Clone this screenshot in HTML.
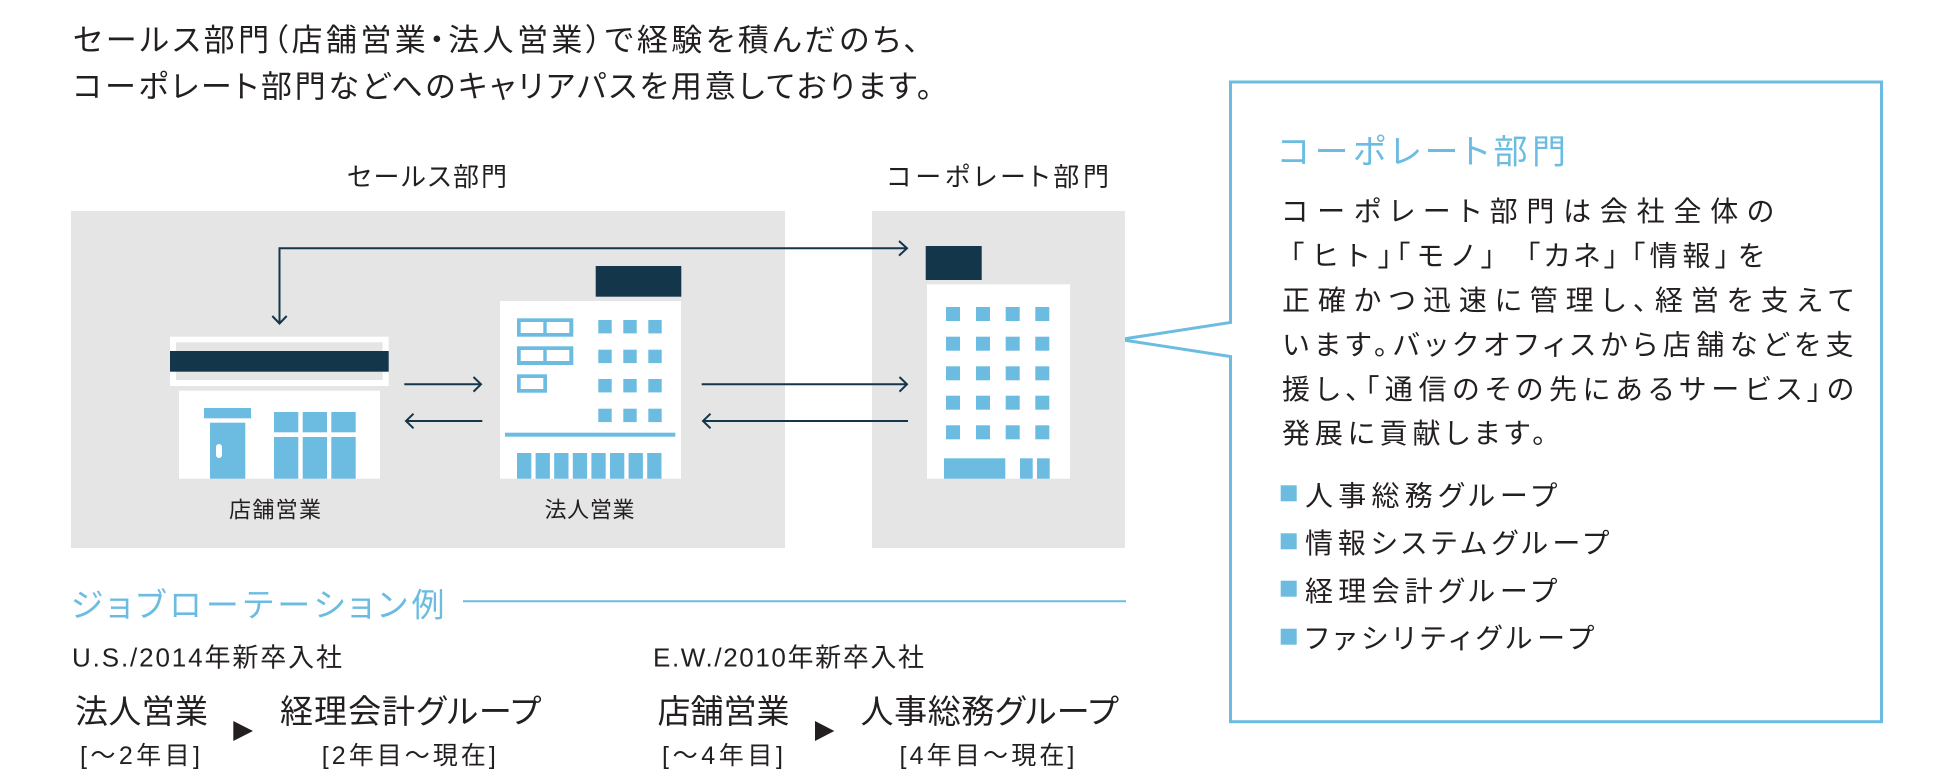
<!DOCTYPE html>
<html lang="ja">
<head>
<meta charset="utf-8">
<style>
  html,body{margin:0;padding:0;background:#fff;}
  body{width:1948px;height:784px;overflow:hidden;}
  svg{display:block;}
  text{font-family:"Liberation Sans","Noto Sans CJK JP",sans-serif;font-feature-settings:"palt";fill:#231f20;}
  .b{fill:#6cbce2;}
</style>
</head>
<body>
<svg width="1948" height="784" viewBox="0 0 1948 784" xmlns="http://www.w3.org/2000/svg">
  <!-- Heading -->
  <text x="73" y="51" font-size="31" textLength="846" lengthAdjust="spacing">セールス部門（店舗営業・法人営業）で経験を積んだのち、</text>
  <text x="73" y="97.5" font-size="31" textLength="859" lengthAdjust="spacing">コーポレート部門などへのキャリアパスを用意しております。</text>

  <!-- Section labels -->
  <text x="347" y="186" font-size="26" textLength="160" lengthAdjust="spacing">セールス部門</text>
  <text x="887" y="186" font-size="26" textLength="222" lengthAdjust="spacing">コーポレート部門</text>

  <!-- Callout box -->
  <rect x="1230.5" y="82" width="651" height="639.7" fill="#fff" stroke="#6cbce2" stroke-width="3"/>
  <rect x="1228.5" y="322.5" width="4" height="34" fill="#fff"/>
  <polyline points="1230.5,318 1230.5,322.5 1120,339.5 1230.5,356.5 1230.5,361" fill="none" stroke="#6cbce2" stroke-width="3" stroke-linejoin="miter"/>

  <!-- Gray boxes -->
  <rect x="71" y="211" width="714" height="337" fill="#e5e5e5"/>
  <rect x="872" y="211" width="253" height="337" fill="#e5e5e5"/>

  <!-- Store icon -->
  <rect x="170" y="336.7" width="218.7" height="49.3" fill="#fff"/>
  <rect x="176" y="342.3" width="206.7" height="37.7" fill="#e5e5e5"/>
  <rect x="170" y="351" width="218.7" height="20.7" fill="#13364b"/>
  <rect x="179" y="390.7" width="201" height="88" fill="#fff"/>
  <rect class="b" x="204" y="408" width="47" height="10.3"/>
  <rect class="b" x="210" y="422.7" width="35.3" height="56"/>
  <rect x="216" y="444" width="6" height="14" rx="3" fill="#fff"/>
  <rect class="b" x="274" y="412" width="24.3" height="20.3"/>
  <rect class="b" x="302.7" y="412" width="24.3" height="20.3"/>
  <rect class="b" x="331.3" y="412" width="24.4" height="20.3"/>
  <rect class="b" x="274" y="437" width="24.3" height="41.7"/>
  <rect class="b" x="302.7" y="437" width="24.3" height="41.7"/>
  <rect class="b" x="331.3" y="437" width="24.4" height="41.7"/>

  <!-- Office building (法人営業) -->
  <rect x="595.7" y="266" width="85.6" height="30.7" fill="#13364b"/>
  <rect x="500" y="301" width="181" height="177.7" fill="#fff"/>
  <rect class="b" x="517" y="318.3" width="56.3" height="18.4"/>
  <rect x="520.7" y="322" width="22.6" height="11" fill="#fff"/>
  <rect x="546.7" y="322" width="22.6" height="11" fill="#fff"/>
  <rect class="b" x="517" y="346.3" width="56.3" height="18.7"/>
  <rect x="520.7" y="350" width="22.6" height="11" fill="#fff"/>
  <rect x="546.7" y="350" width="22.6" height="11" fill="#fff"/>
  <rect class="b" x="517" y="374.3" width="30" height="18.4"/>
  <rect x="520.7" y="378" width="22.6" height="11" fill="#fff"/>
  <g class="b">
    <rect x="598.3" y="320" width="13.4" height="13.4"/>
    <rect x="623.3" y="320" width="13.4" height="13.4"/>
    <rect x="648.3" y="320" width="13.4" height="13.4"/>
    <rect x="598.3" y="349.7" width="13.4" height="13.4"/>
    <rect x="623.3" y="349.7" width="13.4" height="13.4"/>
    <rect x="648.3" y="349.7" width="13.4" height="13.4"/>
    <rect x="598.3" y="379" width="13.4" height="13.4"/>
    <rect x="623.3" y="379" width="13.4" height="13.4"/>
    <rect x="648.3" y="379" width="13.4" height="13.4"/>
    <rect x="598.3" y="408.7" width="13.4" height="13.4"/>
    <rect x="623.3" y="408.7" width="13.4" height="13.4"/>
    <rect x="648.3" y="408.7" width="13.4" height="13.4"/>
    <rect x="505" y="432.7" width="170.3" height="4"/>
    <rect x="517" y="453" width="14.3" height="25.7"/>
    <rect x="535.6" y="453" width="14.3" height="25.7"/>
    <rect x="554.2" y="453" width="14.3" height="25.7"/>
    <rect x="572.8" y="453" width="14.3" height="25.7"/>
    <rect x="591.4" y="453" width="14.3" height="25.7"/>
    <rect x="610" y="453" width="14.3" height="25.7"/>
    <rect x="628.6" y="453" width="14.3" height="25.7"/>
    <rect x="647.2" y="453" width="14.3" height="25.7"/>
  </g>

  <!-- Corporate building -->
  <rect x="925.7" y="246" width="56" height="34" fill="#13364b"/>
  <rect x="927" y="284.3" width="143" height="194.4" fill="#fff"/>
  <g class="b">
    <rect x="946" y="307" width="14" height="14"/><rect x="976" y="307" width="14" height="14"/><rect x="1005.7" y="307" width="14" height="14"/><rect x="1035.3" y="307" width="14" height="14"/>
    <rect x="946" y="336.7" width="14" height="14"/><rect x="976" y="336.7" width="14" height="14"/><rect x="1005.7" y="336.7" width="14" height="14"/><rect x="1035.3" y="336.7" width="14" height="14"/>
    <rect x="946" y="366.3" width="14" height="14"/><rect x="976" y="366.3" width="14" height="14"/><rect x="1005.7" y="366.3" width="14" height="14"/><rect x="1035.3" y="366.3" width="14" height="14"/>
    <rect x="946" y="395.7" width="14" height="14"/><rect x="976" y="395.7" width="14" height="14"/><rect x="1005.7" y="395.7" width="14" height="14"/><rect x="1035.3" y="395.7" width="14" height="14"/>
    <rect x="946" y="425.3" width="14" height="14"/><rect x="976" y="425.3" width="14" height="14"/><rect x="1005.7" y="425.3" width="14" height="14"/><rect x="1035.3" y="425.3" width="14" height="14"/>
    <rect x="944" y="458.3" width="61.3" height="20.4"/>
    <rect x="1020" y="458.3" width="12.7" height="20.4"/>
    <rect x="1037" y="458.3" width="12.7" height="20.4"/>
  </g>

  <!-- Connectors -->
  <g fill="none" stroke="#13364b" stroke-width="2">
    <path d="M279.5,322 V248.3 H907"/>
    <path d="M272.3,316 L279.5,323.5 L286.7,316"/>
    <path d="M899,241 L907,248.3 L899,255.6"/>
    <path d="M404.3,384.3 H481"/>
    <path d="M473.5,377 L481,384.3 L473.5,391.6"/>
    <path d="M482.3,421 H406"/>
    <path d="M413.5,413.7 L406,421 L413.5,428.3"/>
    <path d="M701.7,384.3 H907"/>
    <path d="M899.5,377 L907,384.3 L899.5,391.6"/>
    <path d="M908,421 H703"/>
    <path d="M710.5,413.7 L703,421 L710.5,428.3"/>
  </g>

  <!-- Icon labels -->
  <text x="229" y="517.5" font-size="22" textLength="92" lengthAdjust="spacing">店舗営業</text>
  <text x="544.5" y="517.5" font-size="22" textLength="90" lengthAdjust="spacing">法人営業</text>

  <!-- Job rotation -->
  <text x="70.5" y="616.5" font-size="33" textLength="374" lengthAdjust="spacing" style="fill:#6cbce2">ジョブローテーション例</text>
  <line x1="463" y1="601.3" x2="1126" y2="601.3" stroke="#6cbce2" stroke-width="2"/>

  <text x="72" y="666.5" font-size="26" textLength="270" lengthAdjust="spacing">U.S./2014年新卒入社</text>
  <text x="653" y="666.5" font-size="26" textLength="271" lengthAdjust="spacing">E.W./2010年新卒入社</text>

  <text x="75" y="723" font-size="33" textLength="133" lengthAdjust="spacing">法人営業</text>
  <text x="80" y="764" font-size="25" textLength="120" lengthAdjust="spacing">[～2年目]</text>
  <polygon points="233.3,721 253,731 233.3,741" fill="#231f20"/>
  <text x="280" y="723" font-size="33" textLength="261" lengthAdjust="spacing">経理会計グループ</text>
  <text x="321.8" y="764" font-size="25" textLength="174" lengthAdjust="spacing">[2年目～現在]</text>

  <text x="657.5" y="723" font-size="33" textLength="132" lengthAdjust="spacing">店舗営業</text>
  <text x="662" y="764" font-size="25" textLength="121" lengthAdjust="spacing">[～4年目]</text>
  <polygon points="815,721 834.3,731 815,741" fill="#231f20"/>
  <text x="860.5" y="723" font-size="33" textLength="258" lengthAdjust="spacing">人事総務グループ</text>
  <text x="899.5" y="764" font-size="25" textLength="175" lengthAdjust="spacing">[4年目～現在]</text>

  <!-- Callout content -->
  <text x="1278" y="163.5" font-size="34" textLength="288" lengthAdjust="spacing" style="fill:#6cbce2">コーポレート部門</text>
  <text x="1282" y="221" font-size="28" textLength="492" lengthAdjust="spacing">コーポレート部門は会社全体の</text>
  <text x="1290" y="265.5" font-size="28" textLength="102" lengthAdjust="spacing">「ヒト」</text>
  <text x="1396" y="265.5" font-size="28" textLength="99" lengthAdjust="spacing">「モノ」</text>
  <text x="1526" y="265.5" font-size="28" textLength="92" lengthAdjust="spacing">「カネ」</text>
  <text x="1631" y="265.5" font-size="28" textLength="98" lengthAdjust="spacing">「情報」</text>
  <text x="1738" y="265.5" font-size="28" textLength="32" lengthAdjust="spacing">を</text>
  <text x="1282" y="310" font-size="28" textLength="572" lengthAdjust="spacing">正確かつ迅速に管理し、経営を支えて</text>
  <text x="1282.5" y="354.5" font-size="28" textLength="571" lengthAdjust="spacing">います。バックオフィスから店舗などを支</text>
  <text x="1282" y="399" font-size="28" textLength="572" lengthAdjust="spacing">援し、「通信のその先にあるサービス」の</text>
  <text x="1282" y="443" font-size="28" textLength="264" lengthAdjust="spacing">発展に貢献します。</text>

  <g class="b">
    <rect x="1280.7" y="485.3" width="16" height="16"/>
    <rect x="1280.7" y="533.3" width="16" height="16"/>
    <rect x="1280.7" y="580.7" width="16" height="16"/>
    <rect x="1280.7" y="628.7" width="16" height="16"/>
  </g>
  <text x="1305" y="505.5" font-size="28" textLength="252" lengthAdjust="spacing">人事総務グループ</text>
  <text x="1305" y="553" font-size="28" textLength="304" lengthAdjust="spacing">情報システムグループ</text>
  <text x="1305" y="601" font-size="28" textLength="252" lengthAdjust="spacing">経理会計グループ</text>
  <text x="1305" y="648" font-size="28" textLength="289" lengthAdjust="spacing">ファシリティグループ</text>
</svg>
</body>
</html>
